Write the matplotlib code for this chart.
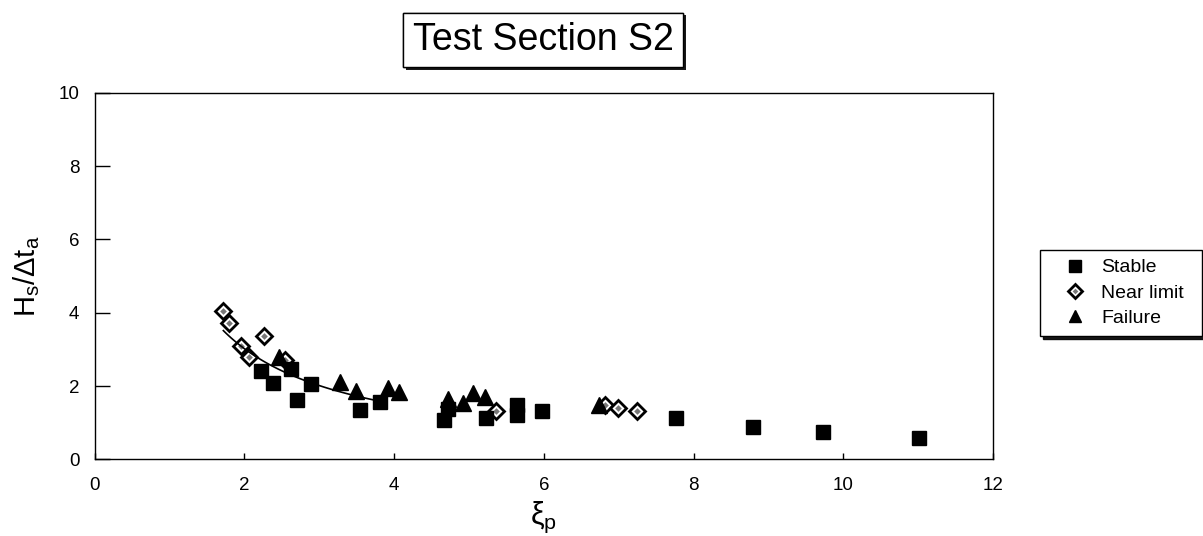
import matplotlib
matplotlib.use("Agg")
import matplotlib.pyplot as plt
import matplotlib.patheffects as pe
import numpy as np

# ────────────────────────────── data ──────────────────────────────
STABLE_X = [2.22, 2.38, 2.62, 2.71, 2.89, 3.54, 3.81, 4.67, 4.72, 5.23, 5.64, 5.64, 5.98, 7.76, 8.79, 9.73, 11.01]
STABLE_Y = [2.42, 2.09, 2.46, 1.62, 2.05, 1.34, 1.57, 1.07, 1.36, 1.12, 1.47, 1.20, 1.33, 1.13, 0.89, 0.74, 0.59]

NEAR_X = [1.71, 1.80, 1.95, 2.06, 2.26, 2.54, 5.36, 6.82, 6.99, 7.24]
NEAR_Y = [4.05, 3.71, 3.09, 2.80, 3.36, 2.71, 1.33, 1.48, 1.39, 1.32]

FAIL_X = [2.46, 3.28, 3.49, 3.92, 4.06, 4.72, 4.92, 5.05, 5.21, 6.74]
FAIL_Y = [2.78, 2.12, 1.87, 1.94, 1.84, 1.64, 1.55, 1.82, 1.71, 1.48]

# power-law trend line y = a * x**b, as drawn over the left cluster
FIT_A = 6.04
FIT_B = -1.0
FIT_RANGE = (1.72, 3.77)

X_TICKS = [0, 2, 4, 6, 8, 10, 12]
Y_TICKS = [0, 2, 4, 6, 8, 10]

TITLE = "Test Section S2"
LABELS = ["Stable", "Near limit", "Failure"]

# ────────────────────────────── style ──────────────────────────────
plt.rcParams["font.family"] = ["Liberation Sans", "DejaVu Sans"]
plt.rcParams["mathtext.fontset"] = "custom"
plt.rcParams["mathtext.rm"] = "Liberation Sans"
plt.rcParams["mathtext.it"] = "Liberation Sans"
plt.rcParams["mathtext.bf"] = "Liberation Sans:bold"


def main() -> None:
    fig = plt.figure(figsize=(12.03, 5.36), dpi=100)
    ax = fig.add_axes([0.0786, 0.143, 0.747, 0.684])

    # near-limit diamonds: black rim, white ring, grey centre
    near_outer, = ax.plot(NEAR_X, NEAR_Y, ls="none", marker="D", ms=8.5,
                          mfc="white", mec="black", mew=2.0, zorder=3)
    near_inner, = ax.plot(NEAR_X, NEAR_Y, ls="none", marker="D", ms=3.4,
                          mfc="#777777", mec="none", zorder=3)
    stable, = ax.plot(STABLE_X, STABLE_Y, ls="none", marker="s", ms=10.5,
                      mfc="black", mec="black", zorder=4)
    fail, = ax.plot(FAIL_X, FAIL_Y, ls="none", marker="^", ms=11,
                    mfc="black", mec="black", zorder=5)

    xs = np.linspace(*FIT_RANGE, 60)
    ax.plot(xs, FIT_A * xs ** FIT_B, color="black", lw=1.2, zorder=6)

    ax.set_xlim(0, 12)
    ax.set_ylim(0, 10)
    ax.set_xticks(X_TICKS)
    ax.set_yticks(Y_TICKS)
    ax.tick_params(axis="x", direction="in", length=4.5, width=1, pad=13, labelsize=13.5)
    ax.tick_params(axis="y", direction="in", length=11, width=1, pad=11, labelsize=13.5)
    for sp in ax.spines.values():
        sp.set_linewidth(1.0)

    ax.set_xlabel(r"$\mathregular{ξ_p}$", fontsize=22)
    ax.xaxis.set_label_coords(0.5, -0.11)
    ax.set_ylabel(r"$\mathregular{H_s/\Delta t_a}$", fontsize=21)
    ax.yaxis.set_label_coords(-0.058, 0.5)

    t = fig.text(543 / 1203, 1 - 40 / 536, TITLE, ha="center", va="center", fontsize=27,
                 bbox=dict(boxstyle="square,pad=0.25", fc="white", ec="black", lw=1.0))
    t.get_bbox_patch().set_path_effects(
        [pe.withSimplePatchShadow(offset=(2, -2), shadow_rgbFace="black", alpha=0.9), pe.Normal()]
    )

    leg = fig.legend(
        [stable, (near_outer, near_inner), fail], LABELS,
        loc="upper left", bbox_to_anchor=(1040 / 1203, 1 - 331 / 536, 162 / 1203, 81 / 536),
        mode="expand", borderaxespad=0, fontsize=14, frameon=True, fancybox=False,
        edgecolor="black", framealpha=1, borderpad=0.45, labelspacing=0.4,
        handlelength=2.7, handletextpad=0.0, markerscale=0.85,
        shadow={"color": "black", "alpha": 0.9, "ox": 2, "oy": -2},
    )
    leg.get_frame().set_linewidth(1.0)

    fig.savefig("out.png", dpi=100)


if __name__ == "__main__":
    main()
